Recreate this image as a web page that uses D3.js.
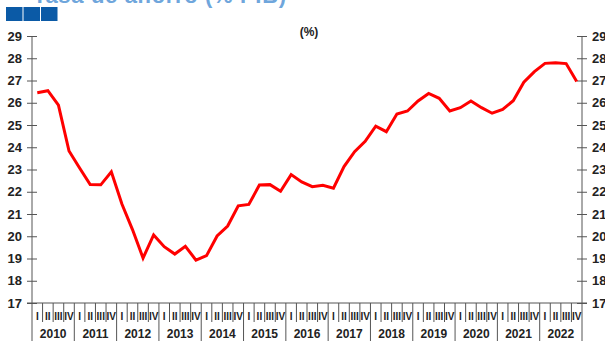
<!DOCTYPE html>
<html>
<head>
<meta charset="utf-8">
<script src="https://cdn.jsdelivr.net/npm/d3@7"></script>
<style>
  html, body { margin: 0; padding: 0; background: #fff; overflow: hidden; }
  svg { display: block; font-family: "Liberation Sans", Arial, sans-serif; }
</style>
</head>
<body>
<svg id="chart" width="605" height="341"></svg>
<script>
// Quarterly series, 2010 Q1 – 2022 Q4 (%)
const years = [2010, 2011, 2012, 2013, 2014, 2015, 2016, 2017, 2018, 2019, 2020, 2021, 2022];
const quarterLabels = ["I", "II", "III", "IV"];
const values = [
  26.45, 26.54, 25.89, 23.83,
  23.07, 22.32, 22.31, 22.90,
  21.45, 20.30, 19.02, 20.06,
  19.53, 19.20, 19.55, 18.93,
  19.13, 20.01, 20.46, 21.37,
  21.43, 22.30, 22.32, 22.02,
  22.77, 22.44, 22.23, 22.29,
  22.16, 23.13, 23.80, 24.27,
  24.95, 24.70, 25.49, 25.63,
  26.08, 26.42, 26.20, 25.63,
  25.78, 26.08, 25.78, 25.53,
  25.70, 26.09, 26.92, 27.40,
  27.77, 27.80, 27.76, 26.95
];
const yTicks = [17, 18, 19, 20, 21, 22, 23, 24, 25, 26, 27, 28, 29];
const unitLabel = "(%)";
const titleText = "Tasa de ahorro (% PIB)";

const svg = d3.select("#chart");
const W = 605, H = 341;
const mLeft = 32, mRight = 582, mTop = 36, mBottom = 303;

const nQ = years.length * 4;
const x = d3.scaleLinear().domain([0, nQ]).range([mLeft, mRight]);
const y = d3.scaleLinear().domain([17, 29]).range([mBottom, mTop]);

// Title, sitting above the top edge so only its foot shows
svg.append("text")
  .attr("x", 33).attr("y", 3)
  .attr("font-size", 22).attr("font-weight", "bold")
  .attr("fill", "#6fa6dc")
  .attr("textLength", 253)
  .attr("lengthAdjust", "spacing")
  .text(titleText);

svg.append("g").selectAll("rect")
  .data([0, 1, 2]).join("rect")
  .attr("x", d => 6 + d * 17.5)
  .attr("y", 7)
  .attr("width", 16.5).attr("height", 14)
  .attr("fill", "#0b5aa6");

const axisColor = "#555";

// Y axes (left and right)
const yLeft = d3.axisLeft(y).tickValues(yTicks).tickSizeInner(5).tickSizeOuter(0).tickPadding(5);
const yRight = d3.axisRight(y).tickValues(yTicks).tickSizeInner(5).tickSizeOuter(0).tickPadding(5);

function styleAxis(g) {
  g.select(".domain").remove();
  g.selectAll(".tick line").attr("stroke", axisColor);
  g.selectAll(".tick text")
    .attr("font-size", 13).attr("font-weight", "bold")
    .attr("fill", "#222")
    .attr("font-family", "Liberation Sans, Arial, sans-serif");
}

const gl = svg.append("g").attr("transform", `translate(${mLeft},0)`).call(yLeft).call(styleAxis);
gl.selectAll(".tick line").attr("x1", 5).attr("x2", -5);
gl.selectAll(".tick text").attr("x", -10);

const gr = svg.append("g").attr("transform", `translate(${mRight},0)`).call(yRight).call(styleAxis);
gr.selectAll(".tick line").attr("x1", -5).attr("x2", 5);
gr.selectAll(".tick text").attr("x", 10);

// Vertical axis lines running to the bottom edge
[mLeft, mRight].forEach(xx => {
  svg.append("line")
    .attr("x1", xx).attr("x2", xx)
    .attr("y1", mTop).attr("y2", H)
    .attr("stroke", axisColor).attr("stroke-width", 1);
});

// Horizontal baseline
svg.append("line")
  .attr("x1", mLeft - 5).attr("x2", mRight + 5)
  .attr("y1", mBottom).attr("y2", mBottom)
  .attr("stroke", axisColor).attr("stroke-width", 1);

// Quarter separators (short) and year separators (long)
const qBoundaries = d3.range(1, nQ);
svg.append("g").selectAll("line")
  .data(qBoundaries).join("line")
  .attr("x1", d => x(d)).attr("x2", d => x(d))
  .attr("y1", mBottom)
  .attr("y2", d => d % 4 === 0 ? H : mBottom + 19)
  .attr("stroke", axisColor).attr("stroke-width", 1);

// Quarter labels
const qData = d3.range(nQ);
svg.append("g").selectAll("text")
  .data(qData).join("text")
  .attr("x", d => x(d + 0.5))
  .attr("y", mBottom + 17)
  .attr("text-anchor", "middle")
  .attr("font-size", 10).attr("font-weight", "bold")
  .attr("fill", "#222")
  .text(d => quarterLabels[d % 4]);

// Year labels
svg.append("g").selectAll("text")
  .data(years).join("text")
  .attr("x", (d, i) => x(i * 4 + 2))
  .attr("y", mBottom + 35)
  .attr("text-anchor", "middle")
  .attr("font-size", 12).attr("font-weight", "bold")
  .attr("fill", "#222")
  .text(d => d);

// Unit label
svg.append("text")
  .attr("x", 309).attr("y", 36)
  .attr("text-anchor", "middle")
  .attr("font-size", 12).attr("font-weight", "bold")
  .attr("fill", "#222")
  .text(unitLabel);

// Series line
const line = d3.line()
  .x((d, i) => x(i + 0.5))
  .y(d => y(d));

svg.append("path")
  .datum(values)
  .attr("d", line)
  .attr("fill", "none")
  .attr("stroke", "#ff0000")
  .attr("stroke-width", 3)
  .attr("stroke-linejoin", "miter");
</script>
</body>
</html>
